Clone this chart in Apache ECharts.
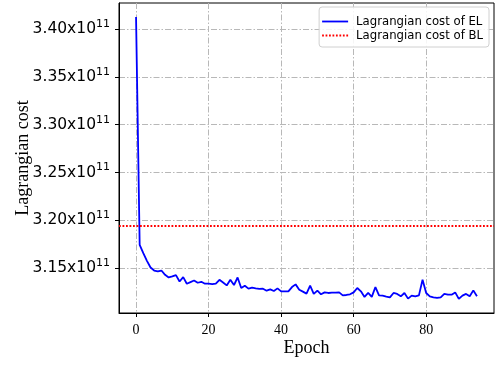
<!DOCTYPE html>
<html>
<head>
<meta charset="utf-8">
<script src="https://cdn.jsdelivr.net/npm/echarts@6/dist/echarts.min.js"></script>
<style>
html,body{margin:0;padding:0;background:#fff;}
#chart{width:498px;height:365px;}
</style>
</head>
<body>
<div id="chart"></div>
<script>
// Epochs 0..94
var epochs = [];
for (var i = 0; i <= 94; i++) epochs.push(i);

// Lagrangian cost of EL, in units of 1e11
var elCost = [
  3.4125, 3.1742, 3.1656, 3.1576, 3.1506, 3.1475, 3.1465, 3.1475, 3.1430, 3.1402,
  3.1413, 3.1427, 3.1360, 3.1406, 3.1337, 3.1354, 3.1371, 3.1347, 3.1357, 3.1337,
  3.1337, 3.1333, 3.1337, 3.1378, 3.1350, 3.1319, 3.1378, 3.1323, 3.1402, 3.1292,
  3.1316, 3.1285, 3.1295, 3.1288, 3.1282, 3.1285, 3.1264, 3.1278, 3.1261, 3.1288,
  3.1257, 3.1257, 3.1257, 3.1302, 3.1330, 3.1274, 3.1254, 3.1233, 3.1316, 3.1230,
  3.1264, 3.1226, 3.1246, 3.1240, 3.1243, 3.1243, 3.1246, 3.1215, 3.1219, 3.1226,
  3.1246, 3.1292, 3.1257, 3.1199, 3.1240, 3.1199, 3.1302, 3.1215, 3.1212, 3.1202,
  3.1194, 3.1240, 3.1230, 3.1205, 3.1240, 3.1181, 3.1212, 3.1205, 3.1215, 3.1378,
  3.1240, 3.1205, 3.1194, 3.1188, 3.1194, 3.1230, 3.1222, 3.1222, 3.1246, 3.1178,
  3.1212, 3.1230, 3.1205, 3.1267, 3.1205
];
// Lagrangian cost of BL (constant reference), units of 1e11
var blCost = 3.1941;

var SCALE = 1e11;
var xTicks = [0, 20, 40, 60, 80];
var yTicks = [3.15, 3.20, 3.25, 3.30, 3.35, 3.40];
var seriesNames = ['Lagrangian cost of EL', 'Lagrangian cost of BL'];

var elData = epochs.map(function (e, i) { return [e, elCost[i] * SCALE]; });
var yTickVals = yTicks.map(function (v) { return v * SCALE; });

var dMin = Math.min.apply(null, elCost), dMax = Math.max.apply(null, elCost);
var yMin = (dMin - 0.05 * (dMax - dMin)) * SCALE;
var yMax = (dMax + 0.05 * (dMax - dMin)) * SCALE;
var eMin = epochs[0], eMax = epochs[epochs.length - 1];
var xMin = eMin - 0.05 * (eMax - eMin);
var xMax = eMax + 0.05 * (eMax - eMin);

var gridLine = { color: '#b8b8b8', width: 1, type: [6, 2, 1.5, 2] };
var dotted = [1.8, 1.7];
var dotIcon = 'path://M0,0h1.8v1.8h-1.8z M3.5,0h1.8v1.8h-1.8z M7,0h1.8v1.8h-1.8z M10.5,0h1.8v1.8h-1.8z M14,0h1.8v1.8h-1.8z M17.5,0h1.8v1.8h-1.8z M21,0h1.8v1.8h-1.8z M24.5,0h1.8v1.8h-1.8z';

var chart = echarts.init(document.getElementById('chart'), null, { renderer: 'canvas' });
chart.setOption({
  animation: false,
  backgroundColor: '#ffffff',
  grid: { left: 119, right: 4, top: 3, bottom: 52, containLabel: false, outerBoundsMode: 'none',
          show: true, borderColor: '#000', borderWidth: 1, backgroundColor: 'transparent' },
  legend: {
    orient: 'vertical',
    right: 9, top: 7,
    padding: [8, 6, 5, 3],
    itemWidth: 26, itemHeight: 1.8, itemGap: 1,
    backgroundColor: 'rgba(255,255,255,0.85)',
    borderColor: '#d0d0d0', borderWidth: 1, borderRadius: 3,
    textStyle: { fontFamily: 'DejaVu Sans', fontSize: 11.7, color: '#000', padding: [0, 0, 0, 3], lineHeight: 13 },
    data: [
      { name: seriesNames[0], icon: 'rect', itemStyle: { color: '#0000ff' } },
      { name: seriesNames[1], icon: dotIcon, itemStyle: { color: '#ff0000' } }
    ]
  },
  xAxis: {
    type: 'value', min: xMin, max: xMax,
    name: 'Epoch', nameLocation: 'middle', nameGap: 26, nameMoveOverlap: false,
    nameTextStyle: { fontFamily: 'Liberation Serif', fontSize: 18, color: '#000' },
    axisLine: { show: true, onZero: false, lineStyle: { color: '#000', width: 1 } },
    axisTick: { show: true, inside: false, length: 4, customValues: xTicks, lineStyle: { color: '#000' } },
    axisLabel: { customValues: xTicks, margin: 10, fontFamily: 'Liberation Serif', fontSize: 14, color: '#000' },
    splitLine: { show: true, lineStyle: gridLine }
  },
  yAxis: {
    type: 'value', min: yMin, max: yMax,
    name: 'Lagrangian cost', nameLocation: 'middle', nameGap: 87, nameMoveOverlap: false,
    nameTextStyle: { fontFamily: 'Liberation Serif', fontSize: 18, color: '#000' },
    axisLine: { show: true, onZero: false, lineStyle: { color: '#000', width: 1 } },
    axisTick: { show: true, inside: false, length: 4, customValues: yTickVals, lineStyle: { color: '#000' } },
    axisLabel: {
      customValues: yTickVals, margin: 9, color: '#000',
      formatter: function (v) { return '{m|' + (v / SCALE).toFixed(2) + 'x10}{s|11}'; },
      rich: {
        m: { fontFamily: 'DejaVu Sans', fontSize: 15.5, color: '#000' },
        s: { fontFamily: 'DejaVu Sans', fontSize: 11, color: '#000', padding: [0, 0, 10, 0] }
      }
    },
    splitLine: { show: true, lineStyle: gridLine }
  },
  series: [
    {
      name: seriesNames[0], type: 'line', data: elData,
      showSymbol: false, symbol: 'none', color: '#0000ff',
      lineStyle: { color: '#0000ff', width: 1.8 }, z: 3
    },
    {
      name: seriesNames[1], type: 'line', data: [],
      showSymbol: false, symbol: 'none', color: '#ff0000',
      lineStyle: { color: '#ff0000', width: 1.8, type: dotted },
      markLine: {
        silent: true, symbol: ['none', 'none'], label: { show: false },
        lineStyle: { color: '#ff0000', width: 1.8, type: dotted },
        data: [{ yAxis: blCost * SCALE }]
      }, z: 2
    }
  ]
});
</script>
</body>
</html>
